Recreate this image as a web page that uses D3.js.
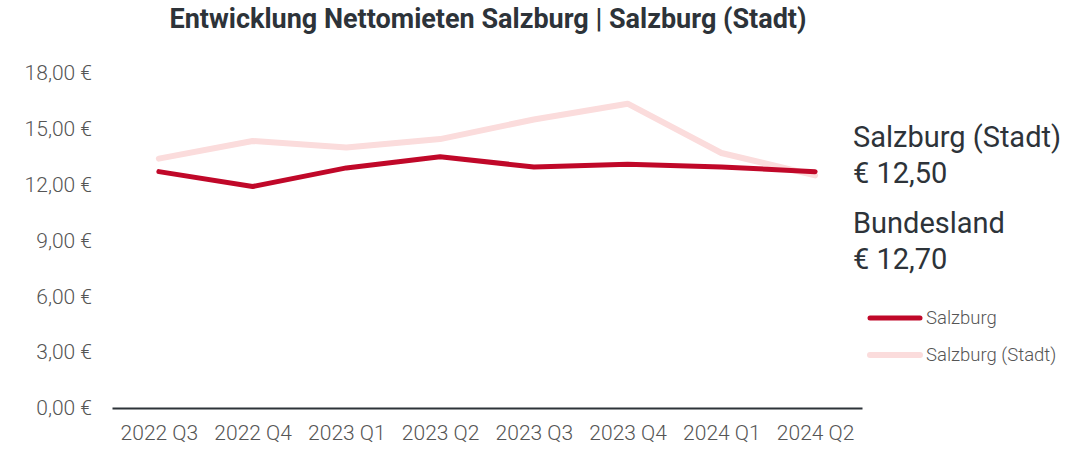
<!DOCTYPE html>
<html>
<head>
<meta charset="utf-8">
<script src="https://cdn.jsdelivr.net/npm/d3@7"></script>
<style>
  body { margin: 0; background: #fff; }
  svg { font-family: Roboto, sans-serif; }
</style>
</head>
<body>
<svg id="chart" width="1089" height="449"></svg>
<script>
var quarters = ["2022 Q3", "2022 Q4", "2023 Q1", "2023 Q2", "2023 Q3", "2023 Q4", "2024 Q1", "2024 Q2"];
var salzburg = [12.7, 11.9, 12.9, 13.5, 12.95, 13.1, 12.95, 12.7];
var salzburgStadt = [13.4, 14.35, 14.0, 14.45, 15.5, 16.35, 13.7, 12.5];
var yTicks = [0, 3, 6, 9, 12, 15, 18];
var seriesNames = ["Salzburg", "Salzburg (Stadt)"];

var svg = d3.select("svg#chart");
var margin = { top: 73, right: 227, bottom: 41, left: 112 };
var width = +svg.attr("width") - margin.left - margin.right;
var height = +svg.attr("height") - margin.top - margin.bottom;
var g = svg.append("g")
  .attr("transform", "translate(" + margin.left + "," + margin.top + ")");

var x = d3.scalePoint().domain(quarters).range([0, width]).padding(0.5);
var y = d3.scaleLinear().domain([0, 18]).range([height, 0]);
var colors = d3.scaleOrdinal().domain(seriesNames).range(["#c00829", "#fbdcdc"]);

var fmt = function(d) { return d.toFixed(2).replace(".", ",") + " €"; };

// y axis labels only
g.append("g")
  .attr("class", "axis yaxis")
  .call(d3.axisLeft(y).tickValues(yTicks).tickFormat(fmt).tickSize(0).tickPadding(20))
  .call(function(a) { a.select(".domain").remove(); })
  .selectAll("text")
  .attr("fill", "#555")
  .style("font-size", "21px")
  .style("font-weight", 300)
  .attr("font-family", "Roboto, sans-serif");

// x axis
g.append("g")
  .attr("class", "axis xaxis")
  .attr("transform", "translate(0," + height + ")")
  .call(d3.axisBottom(x).tickSize(0).tickPadding(17))
  .call(function(a) {
    a.select(".domain").attr("stroke", "#2d3339").attr("stroke-width", 2);
  })
  .selectAll("text")
  .attr("fill", "#555")
  .style("font-size", "21px")
  .style("font-weight", 300)
  .attr("font-family", "Roboto, sans-serif");

var line = d3.line()
  .x(function(d, i) { return x(quarters[i]); })
  .y(function(d) { return y(d); });

g.append("path")
  .datum(salzburgStadt)
  .attr("fill", "none")
  .attr("stroke", colors("Salzburg (Stadt)"))
  .attr("stroke-width", 6)
  .attr("stroke-linejoin", "round")
  .attr("stroke-linecap", "round")
  .attr("d", line);

g.append("path")
  .datum(salzburg)
  .attr("fill", "none")
  .attr("stroke", colors("Salzburg"))
  .attr("stroke-width", 5)
  .attr("stroke-linejoin", "round")
  .attr("stroke-linecap", "round")
  .attr("d", line);

// title
svg.append("text")
  .attr("x", 488)
  .attr("y", 28)
  .attr("text-anchor", "middle")
  .attr("fill", "#2d3339")
  .style("font-size", "27px")
  .style("font-weight", "bold")
  .text("Entwicklung Nettomieten Salzburg | Salzburg (Stadt)");

// annotation with latest values
var lastStadt = salzburgStadt[salzburgStadt.length - 1];
var lastLand = salzburg[salzburg.length - 1];
var notes = [
  ["Salzburg (Stadt)", "€ " + lastStadt.toFixed(2).replace(".", ",")],
  ["Bundesland", "€ " + lastLand.toFixed(2).replace(".", ",")]
];
var note = svg.append("g").attr("transform", "translate(853,0)");
notes.forEach(function(n, i) {
  var base = 147 + i * 86;
  note.append("text")
    .attr("y", base)
    .attr("fill", "#2d3339")
    .style("font-size", "29px")
    .text(n[0]);
  note.append("text")
    .attr("y", base + 36)
    .attr("fill", "#2d3339")
    .style("font-size", "29px")
    .text(n[1]);
});

// legend
var legend = svg.append("g")
  .attr("class", "legend")
  .selectAll("g")
  .data(seriesNames)
  .enter()
  .append("g")
  .attr("transform", function(d, i) { return "translate(868," + (318 + i * 37) + ")"; });

legend.append("line")
  .attr("x1", 2).attr("x2", 52)
  .attr("stroke", colors)
  .attr("stroke-width", function(d, i) { return i === 0 ? 5 : 6; })
  .attr("stroke-linecap", "round");

legend.append("text")
  .attr("x", 58)
  .attr("dy", "0.35em")
  .attr("fill", "#555")
  .style("font-size", "18.5px")
  .style("font-weight", 300)
  .text(function(d) { return d; });
</script>
</body>
</html>
